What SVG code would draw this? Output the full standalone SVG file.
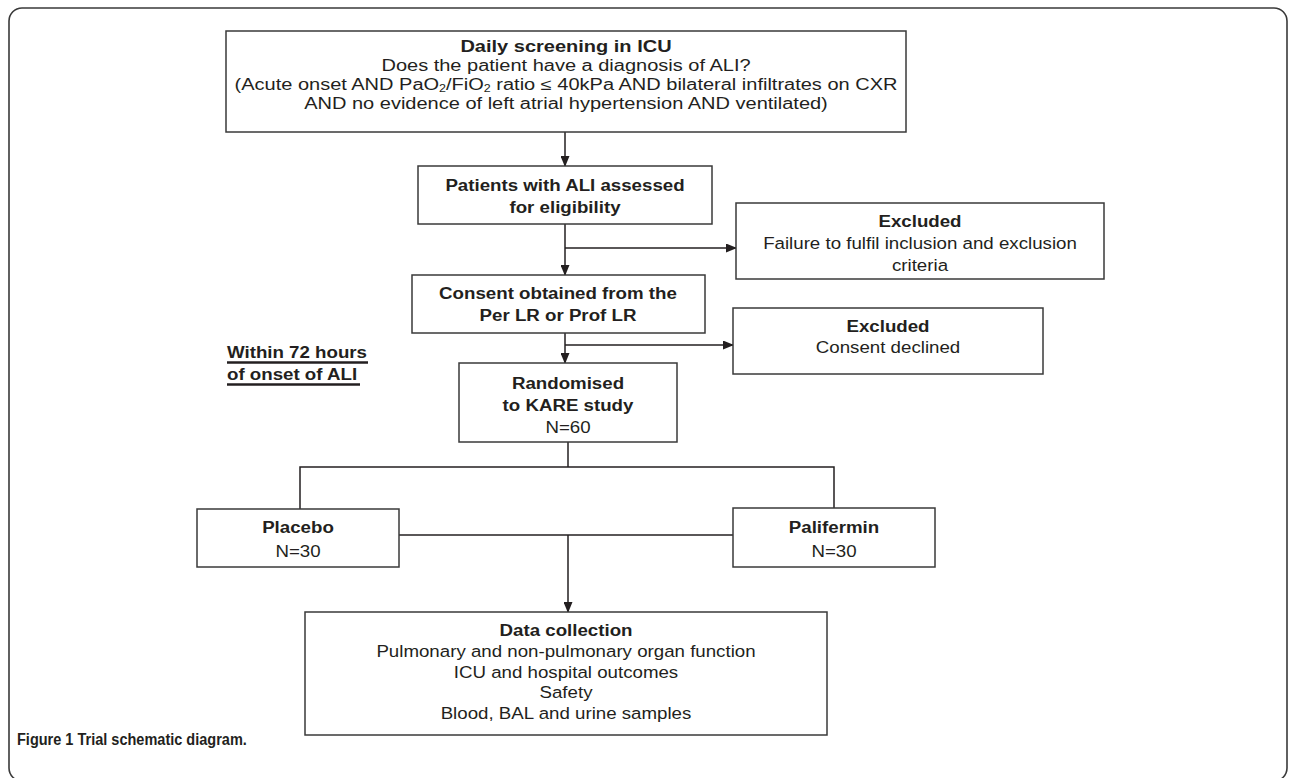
<svg xmlns="http://www.w3.org/2000/svg" width="1290" height="778" viewBox="0 0 1290 778">
<style>
  .box{fill:#fff;stroke:#3a3a3a;stroke-width:1.5}
  .frame{fill:none;stroke:#3a3a3a;stroke-width:1.6}
  .ln{fill:none;stroke:#231f20;stroke-width:1.5}
  text{font-family:"Liberation Sans",Arial,sans-serif;fill:#231f20;text-anchor:middle}
  .b{font-weight:bold}
  .t16{font-size:16px}
  .t17{font-size:17px}
  .cap{font-size:16.5px;font-weight:bold;text-anchor:start}
  .lbl{font-size:17px;font-weight:bold;text-anchor:start}
</style>
<defs>
  <marker id="ah" markerUnits="userSpaceOnUse" markerWidth="11" markerHeight="9" refX="10" refY="4.5" orient="auto">
    <path d="M0,0 L11,4.5 L0,9 z" fill="#231f20"/>
  </marker>
</defs>
<rect width="1290" height="778" fill="#fff"/>
<rect class="frame" x="9" y="8" width="1278" height="773" rx="13"/>

<g id="connectors">
  <line class="ln" x1="565" y1="132" x2="565" y2="166" marker-end="url(#ah)"/>
  <line class="ln" x1="565" y1="224" x2="565" y2="275" marker-end="url(#ah)"/>
  <line class="ln" x1="565" y1="248" x2="736" y2="248" marker-end="url(#ah)"/>
  <line class="ln" x1="565" y1="333" x2="565" y2="363" marker-end="url(#ah)"/>
  <line class="ln" x1="565" y1="345" x2="733" y2="345" marker-end="url(#ah)"/>
  <polyline class="ln" points="568,442 568,467"/>
  <polyline class="ln" points="300,509 300,467 834,467 834,508"/>
  <line class="ln" x1="399" y1="535" x2="733" y2="535"/>
  <line class="ln" x1="568" y1="535" x2="568" y2="612" marker-end="url(#ah)"/>
</g>

<g id="screening">
  <rect class="box" x="226" y="31" width="680" height="101"/>
  <g transform="translate(566 0) scale(1.25 1)">
    <text class="t16 b" x="0" y="52">Daily screening in ICU</text>
    <text class="t16" x="0" y="71">Does the patient have a diagnosis of ALI?</text>
    <text class="t16" x="0" y="90">(Acute onset AND PaO<tspan font-size="10" dy="2">2</tspan><tspan dy="-2">/FiO</tspan><tspan font-size="10" dy="2">2</tspan><tspan dy="-2"> ratio ≤ 40kPa AND bilateral infiltrates on CXR</tspan></text>
    <text class="t16" x="0" y="109">AND no evidence of left atrial hypertension AND ventilated)</text>
  </g>
</g>

<g id="assessed">
  <rect class="box" x="418" y="166" width="294" height="58"/>
  <g transform="translate(565 0) scale(1.1 1)">
    <text class="t17 b" x="0" y="191">Patients with ALI assessed</text>
    <text class="t17 b" x="0" y="213">for eligibility</text>
  </g>
</g>

<g id="excluded1">
  <rect class="box" x="736" y="203" width="368" height="76"/>
  <g transform="translate(920 0) scale(1.1 1)">
    <text class="t17 b" x="0" y="227">Excluded</text>
    <text class="t17" x="0" y="249">Failure to fulfil inclusion and exclusion</text>
    <text class="t17" x="0" y="271">criteria</text>
  </g>
</g>

<g id="consent">
  <rect class="box" x="412" y="275" width="293" height="58"/>
  <g transform="translate(558 0) scale(1.1 1)">
    <text class="t17 b" x="0" y="299">Consent obtained from the</text>
    <text class="t17 b" x="0" y="321">Per LR or Prof LR</text>
  </g>
</g>

<g id="excluded2">
  <rect class="box" x="733" y="308" width="310" height="66"/>
  <g transform="translate(888 0) scale(1.1 1)">
    <text class="t17 b" x="0" y="332">Excluded</text>
    <text class="t17" x="0" y="353">Consent declined</text>
  </g>
</g>

<g id="window">
  <g transform="translate(227 0) scale(1.1 1)">
    <text class="lbl" x="0" y="358">Within 72 hours</text>
    <text class="lbl" x="0" y="380">of onset of ALI</text>
  </g>
  <line x1="227" y1="362.5" x2="368" y2="362.5" stroke="#231f20" stroke-width="2.5"/>
  <line x1="227" y1="384.5" x2="360" y2="384.5" stroke="#231f20" stroke-width="2.5"/>
</g>

<g id="randomised">
  <rect class="box" x="459" y="363" width="218" height="79"/>
  <g transform="translate(568 0) scale(1.1 1)">
    <text class="t17 b" x="0" y="389">Randomised</text>
    <text class="t17 b" x="0" y="411">to KARE study</text>
    <text class="t17" x="0" y="433">N=60</text>
  </g>
</g>

<g id="placebo">
  <rect class="box" x="197" y="509" width="202" height="58"/>
  <g transform="translate(298 0) scale(1.1 1)">
    <text class="t17 b" x="0" y="533">Placebo</text>
    <text class="t17" x="0" y="557">N=30</text>
  </g>
</g>

<g id="palifermin">
  <rect class="box" x="733" y="508" width="202" height="59"/>
  <g transform="translate(834 0) scale(1.1 1)">
    <text class="t17 b" x="0" y="533">Palifermin</text>
    <text class="t17" x="0" y="557">N=30</text>
  </g>
</g>

<g id="datacollection">
  <rect class="box" x="305" y="612" width="522" height="123"/>
  <g transform="translate(566 0) scale(1.1 1)">
    <text class="t17 b" x="0" y="636">Data collection</text>
    <text class="t17" x="0" y="657">Pulmonary and non-pulmonary organ function</text>
    <text class="t17" x="0" y="678">ICU and hospital outcomes</text>
    <text class="t17" x="0" y="698">Safety</text>
    <text class="t17" x="0" y="719">Blood, BAL and urine samples</text>
  </g>
</g>

<g id="caption">
  <g transform="translate(17 0) scale(0.88 1)">
    <text class="cap" x="0" y="745">Figure 1 Trial schematic diagram.</text>
  </g>
</g>
</svg>
